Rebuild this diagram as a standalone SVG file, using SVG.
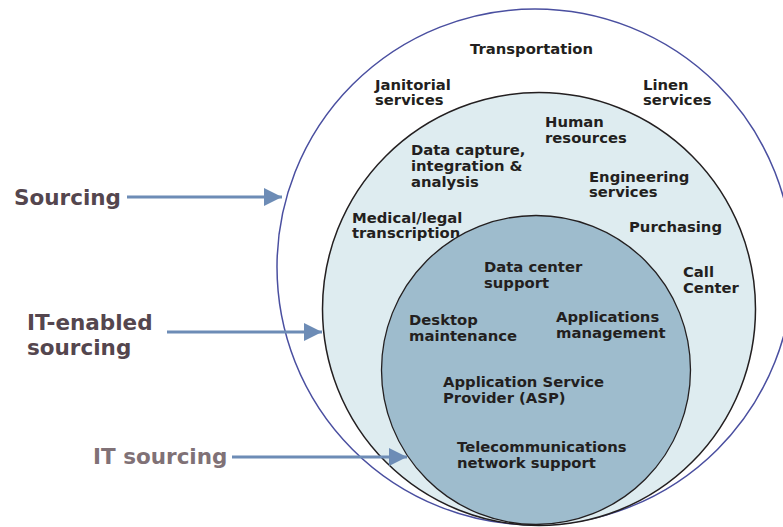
<svg xmlns="http://www.w3.org/2000/svg" width="783" height="527" viewBox="0 0 783 527">
<defs>
<style>
.t{font-family:"DejaVu Sans",Verdana,sans-serif;font-weight:bold;font-size:14.8px;fill:#231f20}
.lbl{font-family:"DejaVu Sans",Verdana,sans-serif;font-weight:bold;font-size:21.5px}
.conn{stroke:#6d8cb6;stroke-width:3;fill:none}
</style>
<marker id="ah" markerWidth="6" markerHeight="6" refX="6" refY="3" orient="auto" markerUnits="strokeWidth">
<path d="M0,0 L6,3 L0,6 Z" fill="#6d8cb6"/>
</marker>
</defs>
<rect width="783" height="527" fill="#ffffff"/>
<g id="sourcing-circle">
<circle cx="535" cy="267" r="258" fill="#ffffff" stroke="#4a4fa0" stroke-width="1.5"/>
<text class="t" x="470" y="54">Transportation</text>
<text class="t" x="375" y="90">Janitorial<tspan x="375" y="105">services</tspan></text>
<text class="t" x="643" y="90">Linen<tspan x="643" y="105">services</tspan></text>
</g>
<g id="it-enabled-circle">
<circle cx="539" cy="309" r="216.5" fill="#deecf0" stroke="#231f20" stroke-width="1.5"/>
<text class="t" x="545" y="127">Human<tspan x="545" y="143">resources</tspan></text>
<text class="t" x="411" y="155">Data capture,<tspan x="411" y="171">integration &amp;</tspan><tspan x="411" y="187">analysis</tspan></text>
<text class="t" x="589" y="182">Engineering<tspan x="589" y="197">services</tspan></text>
<text class="t" x="352" y="223">Medical/legal<tspan x="352" y="238">transcription</tspan></text>
<text class="t" x="629" y="232">Purchasing</text>
<text class="t" x="683" y="277">Call<tspan x="683" y="293">Center</tspan></text>
</g>
<g id="it-circle">
<circle cx="536" cy="370" r="154.5" fill="#9ebccd" stroke="#231f20" stroke-width="1.3"/>
<text class="t" x="484" y="272">Data center<tspan x="484" y="288">support</tspan></text>
<text class="t" x="409" y="325">Desktop<tspan x="409" y="341">maintenance</tspan></text>
<text class="t" x="556" y="322">Applications<tspan x="556" y="338">management</tspan></text>
<text class="t" x="443" y="387">Application Service<tspan x="443" y="403">Provider (ASP)</tspan></text>
<text class="t" x="457" y="452">Telecommunications<tspan x="457" y="468">network support</tspan></text>
</g>
<g id="label-sourcing">
<text class="lbl" x="14" y="205" fill="#54464e">Sourcing</text>
</g>
<g id="label-it-enabled">
<text class="lbl" x="27" y="330" fill="#54464e">IT-enabled<tspan x="27" y="355">sourcing</tspan></text>
</g>
<g id="label-it-sourcing">
<text class="lbl" x="93" y="464" fill="#807176">IT sourcing</text>
</g>
<g id="connectors">
<line class="conn" x1="127" y1="197" x2="282" y2="197" marker-end="url(#ah)"/>
<line class="conn" x1="167" y1="332" x2="322" y2="332" marker-end="url(#ah)"/>
<line class="conn" x1="232" y1="457" x2="407" y2="457" marker-end="url(#ah)"/>
</g>
</svg>
